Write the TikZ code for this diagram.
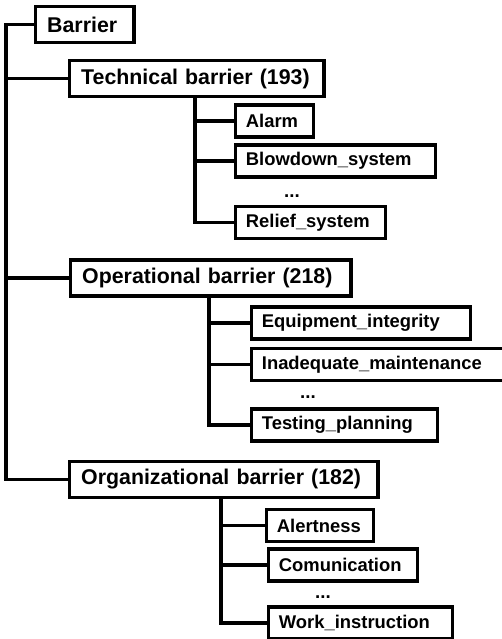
\documentclass[tikz,border=0pt]{standalone}
\usepackage{fontspec}
\setmainfont{Liberation Sans}

\begin{document}
\begin{tikzpicture}[x=0.75pt, y=-0.75pt, line width=2.6pt,
  topbox/.style={draw, anchor=west, align=left, inner xsep=9pt, inner ysep=0pt,
    minimum height=27pt, font=\fontsize{16}{19}\selectfont\bfseries},
  leafbox/.style={draw, anchor=west, align=left, inner xsep=8pt, inner ysep=0pt,
    minimum height=24pt, font=\fontsize{13.8}{16}\selectfont\bfseries},
  more/.style={inner sep=0pt, font=\fontsize{14}{16}\selectfont\bfseries}]
  \useasboundingbox (0,0) rectangle (501,639);

  % root and the three groups
  \node[topbox, text width=56pt]  (bar)  at (33.5,24.5) {Barrier};
  \node[topbox, text width=173pt] (tech) at (67.5,78.5) {Technical~barrier~(193)};
  \node[topbox, text width=192.5pt] (oper) at (68.5,278)  {Operational~barrier~(218)};
  \node[topbox, text width=213.5pt] (org)  at (67.5,479.5) {Organizational~barrier~(182)};

  % technical barrier items
  \node[leafbox, text width=42.5pt]  (alarm)  at (233.5,121)   {Alarm};
  \node[leafbox, text width=134pt]   (blow)   at (233.5,161)   {Blowdown\_system};
  \node[more]                        (dots1)  at (292,196)     {...};
  \node[leafbox, text width=96.5pt]  (relief) at (233.5,222.5) {Relief\_system};

  % operational barrier items
  \node[leafbox, text width=148.25pt] (equip) at (249.5,323)   {Equipment\_integrity};
  \node[leafbox, text width=178.25pt] (maint) at (249.5,364.5) {Inadequate\_maintenance};
  \node[more]                         (dots2) at (308,397)     {...};
  \node[leafbox, text width=123.5pt]  (test)  at (249.5,425)   {Testing\_planning};

  % organizational barrier items
  \node[leafbox, text width=64.25pt] (alert) at (264.5,525.5) {Alertness};
  \node[leafbox, text width=95.75pt] (comm)  at (266.5,565)   {Comunication};
  \node[more]                        (dots3) at (323,597)     {...};
  \node[leafbox, text width=122pt]   (work)  at (266.5,623)   {Work\_instruction};

  % trunk lines
  \coordinate (r)  at (6,24.5);
  \coordinate (t1) at (195,0);
  \coordinate (t2) at (209,0);
  \coordinate (t3) at (221,0);

  \draw (bar.west) -- (r) |- (org.west);
  \draw (r) |- (tech.west);
  \draw (r) |- (oper.west);

  \foreach \c in {alarm, blow, relief}
    \draw (tech.south -| t1) |- (\c.west);
  \foreach \c in {equip, maint, test}
    \draw (oper.south -| t2) |- (\c.west);
  \foreach \c in {alert, comm, work}
    \draw (org.south -| t3) |- (\c.west);
\end{tikzpicture}
\end{document}
